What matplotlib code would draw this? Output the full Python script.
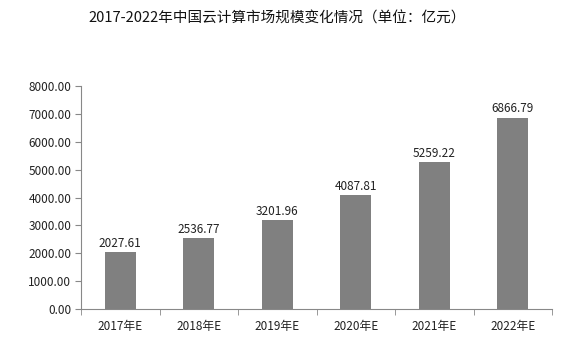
import matplotlib
matplotlib.use("Agg")
import matplotlib.pyplot as plt
import numpy as np

plt.rcParams['font.family'] = ['Noto Sans CJK SC', 'DejaVu Sans']

categories = ["2017年E", "2018年E", "2019年E", "2020年E", "2021年E", "2022年E"]
values = [2027.61, 2536.77, 3201.96, 4087.81, 5259.22, 6866.79]
yticks = [0, 1000, 2000, 3000, 4000, 5000, 6000, 7000, 8000]

fig = plt.figure(figsize=(5.65, 3.47), dpi=100)
ax = fig.add_axes([0.1434, 0.1095, 0.977 - 0.1434, 0.752 - 0.1095])

x = np.arange(len(categories))
ax.bar(x, values, width=0.4, color='#808080')
for xi, v in zip(x, values):
    ax.text(xi, v + 80, f"{v:.2f}", ha='center', va='bottom', fontsize=8.5, color='#222222')

ax.set_xlim(-0.5, len(categories) - 0.5)
ax.set_ylim(0, 8000)
ax.set_yticks(yticks)
ax.set_yticklabels([f"{t:.2f}" for t in yticks], fontsize=8.5, color='#222222')
ax.set_xticks(x)
ax.set_xticklabels(categories, fontsize=8.5, color='#222222')
ax.tick_params(axis='x', length=0, pad=8)
ax.set_xticks(np.arange(-0.5, len(categories)), minor=True)
ax.tick_params(axis='x', which='minor', length=4, color='#888888')
ax.tick_params(axis='y', length=4, color='#888888', pad=3)

for s in ['top', 'right']:
    ax.spines[s].set_visible(False)
for s in ['left', 'bottom']:
    ax.spines[s].set_color('#888888')

fig.text(0.49, 0.948, "2017-2022年中国云计算市场规模变化情况（单位：亿元）", ha='center', va='center', fontsize=10.5, color='#111111')

fig.savefig("out.png", dpi=100)
